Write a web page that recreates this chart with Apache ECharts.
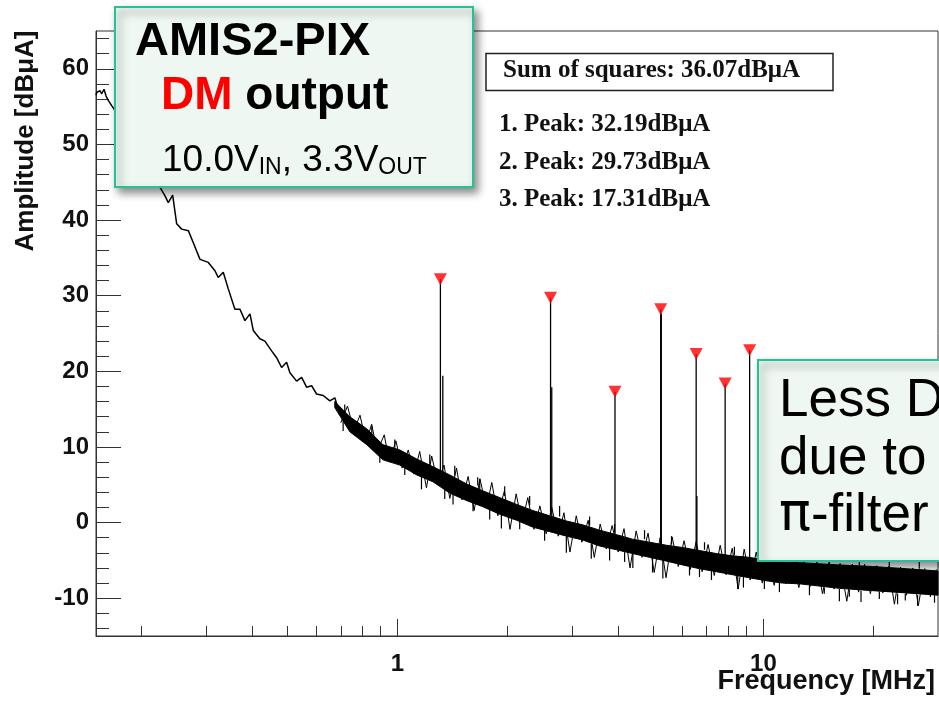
<!DOCTYPE html>
<html>
<head>
<meta charset="utf-8">
<script src="https://cdn.jsdelivr.net/npm/echarts@6/dist/echarts.min.js"></script>
<style>
html,body{margin:0;padding:0;background:#fff;}
#chart{width:939px;height:707px;}
</style>
</head>
<body>
<div id="chart"></div>
<script>
// ---- axis ticks ----
var xMajorTicks = [1, 10];
var xMinorTicks = [0.2,0.3,0.4,0.5,0.6,0.7,0.8,0.9,2,3,4,5,6,7,8,9,20];
var yMajorTicks = [-10,0,10,20,30,40,50,60];
var yMinorTicks = [-14,-12,-8,-6,-4,-2,2,4,6,8,12,14,16,18,22,24,26,28,32,34,36,38,42,44,46,48,52,54,56,58,62,64];

// ---- low-frequency trace (MHz, dBuA) ----
var traceFreq = [0.150,0.1508,0.1539,0.1555,0.1578,0.1598,0.1622,0.1657,0.1674,
  0.2316,0.2364,0.2430,0.2492,0.2572,0.2682,0.2767,0.2886,0.3041,0.3171,0.3237,0.3341,
  0.3448,0.3595,0.3711,0.3829,0.3952,0.4035,0.4207,0.4341,0.4529,0.4674,0.4823,0.4977,
  0.5082,0.5301,0.5470,0.5644,0.5824,0.6010,0.6264,0.6534,0.6742,0.6958,0.7258,0.7565,
  0.7891,0.8229,0.8579,0.8947,0.9332,0.9727,1.0146,1.0582,1.1030,1.1506,1.2000,1.2509,1.2907];
var traceAmp = [56.5,56.9,57.1,56.7,57.3,56.4,55.8,55.1,54.8,
  43.2,42.3,43.3,39.5,38.8,38.6,37.0,34.8,34.4,33.3,32.4,33.1,
  30.9,28.2,28.2,26.7,27.6,25.4,24.3,24.0,22.7,21.8,20.5,21.2,
  19.8,18.7,19.2,17.9,18.1,17.0,16.8,16.1,16.5,14.3,13.9,12.8,
  12.4,12.1,11.2,10.4,9.9,9.3,9.0,8.2,7.7,7.3,6.8,6.4,6.0];

// ---- dense noise core (upper / lower edge) ----
var bandFreq = [0.674,0.741,0.824,0.912,1.015,1.129,1.249,1.389,1.546,1.710,1.902,2.117,2.341,2.605,
  2.899,3.206,3.567,3.969,4.390,4.885,5.436,6.011,6.688,7.443,8.232,9.158,10.19,11.27,12.54,
  16.13,19.85,24.57,30];
var bandHigh = [16.0,14.0,12.4,10.3,9.6,8.4,7.4,6.3,5.1,4.2,3.3,2.4,1.6,0.9,
  0.2,-0.3,-1.0,-1.6,-2.2,-2.6,-3.0,-3.3,-3.7,-4.1,-4.4,-4.6,-5.0,-5.2,-5.3,
  -5.6,-5.8,-6.1,-6.4];
var bandLow = [15.2,12.0,10.3,8.3,7.6,6.3,5.4,3.9,2.9,2.1,1.1,0.3,-0.6,-1.2,
  -1.8,-2.3,-3.1,-3.6,-4.1,-4.6,-5.1,-5.6,-6.1,-6.5,-6.9,-7.3,-7.7,-8.0,-8.1,
  -8.7,-9.0,-9.3,-9.6];

// ---- jagged noise trace over the core ----
var noiseFreq = [0.70,0.73,0.76,0.79,0.82,0.85,0.88,0.92,0.95,0.99,
  1.03,1.07,1.11,1.15,1.20,1.24,1.29,1.34,1.39,1.45,
  1.50,1.56,1.62,1.68,1.75,1.81,1.88,1.96,2.03,2.11,
  2.19,2.27,2.36,2.45,2.55,2.64,2.75,2.85,2.96,3.08,
  3.19,3.32,3.45,3.58,3.72,3.86,4.01,4.16,4.32,4.49,
  4.66,4.84,5.03,5.22,5.42,5.63,5.85,6.07,6.31,6.55,
  6.80,7.06,7.34,7.62,7.91,8.22,8.53,8.86,9.20,9.56,
  9.93,10.3,10.7,11.1,11.5,12.0,12.5,12.9,13.4,14.0,
  14.5,15.1,15.6,16.2,16.9,17.5,18.2,18.9,19.6,20.4,
  21.2,22.0,22.8,23.7,24.6,25.6,26.5,27.6,28.6,29.7];
var noiseAmp = [13.2,15.4,12.2,14.2,10.6,13.0,9.4,11.6,8.0,10.8,
  7.2,9.6,6.4,9.4,4.6,8.8,5.2,7.6,3.2,7.2,
  3.0,6.1,1.6,5.8,1.9,5.3,0.9,4.2,-0.9,3.8,
  0.0,3.3,-0.9,2.2,-1.5,2.0,-1.8,1.3,-3.9,0.9,
  -2.6,0.3,-4.6,-0.2,-3.5,-0.4,-3.9,-0.8,-6.0,-1.1,
  -4.6,-1.4,-6.6,-2.0,-7.3,-1.9,-5.8,-2.4,-6.2,-2.5,
  -6.5,-2.9,-7.0,-3.0,-6.9,-3.4,-8.8,-3.5,-7.6,-3.9,
  -8.0,-4.0,-8.3,-4.9,-8.1,-5.0,-8.6,-5.1,-8.5,-5.2,
  -9.4,-5.3,-8.8,-5.4,-10.4,-5.5,-9.2,-5.5,-9.4,-5.7,
  -9.3,-5.8,-10.8,-5.9,-9.6,-6.0,-11.0,-6.1,-9.8,-6.2];

// ---- extra noise needles (from, to) ----
var needleFreq = [0.7176,0.8507,0.9831,1.2253,1.4338,1.6566,1.9632,2.2973,2.7737,3.3497,3.9191,4.7330,
  5.6089,6.9024,8.3330,10.385,12.540,15.142,18.288,22.080,26.665,
  0.7104,0.8947,1.047,1.1629,1.3462,1.4184,1.6085,1.6776,1.7865,1.9227,2.1576,2.524,2.8937,
  3.3853,3.799,4.175,4.3975,4.977,5.311,6.281,6.688,7.211,8.508,8.818,10.06,11.06,13.36,14.67,
  16.13,17.17,18.48,20.74,23.26,24.42,26.38,29.35];
var needleFrom = [14.4,11.6,9.9,7.6,6.2,4.9,3.5,2.3,0.8,-0.4,-1.3,-2.2,
  -2.9,-3.6,-4.3,-4.9,-5.2,-5.5,-5.7,-5.9,-6.1,
  13.5,9.5,7.8,6.5,5.0,4.0,3.0,4.0,2.0,1.5,0.6,-0.8,-1.8,
  -2.8,-3.4,-3.9,-4.0,-4.5,-5.0,-5.8,-6.1,-6.4,-7.0,-7.2,-7.7,-7.9,-8.4,-8.6,
  -8.8,-8.9,-9.0,-9.1,-9.4,-9.4,-9.6,-9.6];
var needleTo = [15.6,12.8,11.0,9.0,7.5,6.0,4.8,3.5,2.2,0.8,-0.2,-1.0,
  -1.8,-2.6,-3.2,-3.8,-4.0,-4.4,-4.6,-4.8,-5.0,
  12.1,7.9,6.3,4.4,3.1,2.4,1.5,5.7,0.4,-0.8,-0.9,-2.4,-4.0,
  -4.8,-5.0,-5.2,-6.0,-6.6,-7.4,-7.0,-7.2,-7.6,-8.8,-8.6,-8.8,-9.2,-9.6,-9.4,
  -10.4,-9.8,-10.5,-10.1,-10.8,-10.3,-11.0,-10.6];

// ---- harmonic peaks ----
var peakFreq = [1.31,2.62,3.93,5.24,6.55,7.86,9.17];
var peakAmp  = [32.19,29.73,17.31,28.2,22.3,18.4,22.8];
var peakBase = [5.5,1.0,-2.5,-3.5,-4.0,-4.5,-5.0];
var sideFreq = [1.33,2.64,5.26,6.58];
var sideAmp  = [19.4,17.9,27.6,3.5];
var sideBase = [5.0,0.8,-3.6,-4.2];

var sumOfSquares = 36.07;
var topPeaks = [32.19, 29.73, 17.31];

var chart = echarts.init(document.getElementById('chart'), null, {renderer:'canvas'});

function pairs(a, b){ return a.map(function(v,i){ return [v, b[i]]; }); }
function triples(a, b, c){ return a.map(function(v,i){ return [v, b[i], c[i]]; }); }

function segRender(width){
  return function(params, api){
    var p1 = api.coord([api.value(0), api.value(1)]);
    var p2 = api.coord([api.value(0), api.value(2)]);
    return {type:'line', shape:{x1:p1[0], y1:p1[1], x2:p2[0], y2:p2[1]},
      style:{stroke:'#000', lineWidth:width}};
  };
}

var axisColor = '#333';
var labelFont = {fontSize:24, fontWeight:'bold', color:'#111', fontFamily:'Liberation Sans'};

var option = {
  animation:false,
  backgroundColor:'#fff',
  grid:{left:96, top:31, right:1, bottom:71, show:true, borderColor:axisColor, borderWidth:1, backgroundColor:'transparent'},
  xAxis:[
    {type:'log', logBase:10, min:0.15, max:30,
     axisLine:{onZero:false, lineStyle:{color:axisColor, width:1}},
     axisTick:{inside:true, length:17, customValues:xMajorTicks, lineStyle:{color:axisColor, width:1}},
     axisLabel:Object.assign({customValues:xMajorTicks, margin:16, formatter:function(v){return String(v);}}, labelFont),
     splitLine:{show:false}, minorTick:{show:false}},
    {type:'log', logBase:10, min:0.15, max:30, position:'bottom',
     axisLine:{show:false, onZero:false},
     axisTick:{inside:true, length:10, customValues:xMinorTicks, lineStyle:{color:axisColor, width:1}},
     axisLabel:{show:false}, splitLine:{show:false}}
  ],
  yAxis:[
    {type:'value', min:-15, max:65, position:'left',
     axisLine:{show:true, onZero:false, lineStyle:{color:axisColor, width:1}},
     axisTick:{inside:true, length:25, customValues:yMajorTicks, lineStyle:{color:axisColor, width:1}},
     axisLabel:Object.assign({customValues:yMajorTicks, margin:7}, labelFont),
     splitLine:{show:false}},
    {type:'value', min:-15, max:65, position:'left',
     axisLine:{show:false, onZero:false},
     axisTick:{inside:true, length:13, customValues:yMinorTicks, lineStyle:{color:axisColor, width:1}},
     axisLabel:{show:false}, splitLine:{show:false}}
  ],
  series:[
    {type:'custom', name:'band', xAxisIndex:0, yAxisIndex:0, z:2,
     data:triples(bandFreq, bandHigh, bandLow),
     renderItem:function(params, api){
       if (params.dataIndex !== 0) return null;
       var pts = [];
       for (var i=0;i<bandFreq.length;i++) pts.push(api.coord([bandFreq[i], bandHigh[i]]));
       for (var j=bandFreq.length-1;j>=0;j--) pts.push(api.coord([bandFreq[j], bandLow[j]]));
       return {type:'polygon', shape:{points:pts}, style:{fill:'#000', stroke:'#000', lineWidth:1}};
     }},
    {type:'line', name:'trace', xAxisIndex:0, yAxisIndex:0, data:pairs(traceFreq, traceAmp),
     showSymbol:false, lineStyle:{color:'#000', width:1.5}, z:3},
    {type:'line', name:'noise', xAxisIndex:0, yAxisIndex:0, data:pairs(noiseFreq, noiseAmp),
     showSymbol:false, lineStyle:{color:'#000', width:1}, z:3},
    {type:'custom', name:'needles', xAxisIndex:0, yAxisIndex:0, data:triples(needleFreq, needleFrom, needleTo),
     renderItem:segRender(1.2), z:3},
    {type:'custom', name:'peaks', xAxisIndex:0, yAxisIndex:0, data:triples(peakFreq, peakBase, peakAmp),
     renderItem:segRender(1.3), z:3},
    {type:'custom', name:'side', xAxisIndex:0, yAxisIndex:0, data:triples(sideFreq, sideBase, sideAmp),
     renderItem:segRender(1.3), z:3},
    {type:'scatter', name:'markers', xAxisIndex:0, yAxisIndex:0, data:pairs(peakFreq, peakAmp),
     symbol:'triangle', symbolRotate:180, symbolSize:[13,12], itemStyle:{color:'#FF0000'}, z:4}
  ],
  graphic:[
    {type:'text', z:50, x:26, y:141, rotation:Math.PI/2,
     style:{text:'Amplitude [dBμA]', font:'bold 26px "Liberation Sans"', fill:'#111', align:'center', verticalAlign:'middle'}},
    {type:'text', z:50, x:935, y:682,
     style:{text:'Frequency [MHz]', font:'bold 27px "Liberation Sans"', fill:'#111', align:'right', verticalAlign:'middle'}},
    {type:'rect', z:50, shape:{x:486, y:53.5, width:347, height:37},
     style:{fill:'#fff', stroke:'#222', lineWidth:1.5}},
    {type:'text', z:51, x:503, y:71,
     style:{text:'Sum of squares: ' + sumOfSquares.toFixed(2) + 'dBμA', font:'bold 25px "Liberation Serif"', fill:'#111', align:'left', verticalAlign:'middle'}},
    {type:'text', z:51, x:499, y:125,
     style:{text:'1. Peak: ' + topPeaks[0].toFixed(2) + 'dBμA', font:'bold 25px "Liberation Serif"', fill:'#111', align:'left', verticalAlign:'middle'}},
    {type:'text', z:51, x:499, y:163,
     style:{text:'2. Peak: ' + topPeaks[1].toFixed(2) + 'dBμA', font:'bold 25px "Liberation Serif"', fill:'#111', align:'left', verticalAlign:'middle'}},
    {type:'text', z:51, x:499, y:200,
     style:{text:'3. Peak: ' + topPeaks[2].toFixed(2) + 'dBμA', font:'bold 25px "Liberation Serif"', fill:'#111', align:'left', verticalAlign:'middle'}},
    {type:'rect', z:60, shape:{x:115, y:7, width:358, height:180},
     style:{fill:'#EEF7F2', stroke:'#22C497', lineWidth:2, shadowBlur:8, shadowOffsetX:4, shadowOffsetY:5, shadowColor:'rgba(0,0,0,0.45)'}},
    {type:'text', z:61, x:135, y:42,
     style:{text:'AMIS2-PIX', font:'bold 47px "Liberation Sans"', fill:'#000', align:'left', verticalAlign:'middle'}},
    {type:'text', z:61, x:161, y:96,
     style:{text:'{r|DM}{b| output}', align:'left', verticalAlign:'middle',
       rich:{r:{fill:'#FF0000', font:'bold 46px "Liberation Sans"'}, b:{fill:'#000', font:'bold 46px "Liberation Sans"'}}}},
    {type:'text', z:61, x:162, y:157,
     style:{text:'{m|10.0V}{s|IN}{m|, 3.3V}{s|OUT}', align:'left', verticalAlign:'middle',
       rich:{m:{fill:'#000', font:'37px "Liberation Sans"', lineHeight:44, verticalAlign:'bottom'},
             s:{fill:'#000', font:'23px "Liberation Sans"', lineHeight:18, verticalAlign:'bottom'}}}},
    {type:'rect', z:60, shape:{x:758, y:360, width:210, height:201},
     style:{fill:'#EEF7F2', stroke:'#22C497', lineWidth:2, shadowBlur:8, shadowOffsetX:4, shadowOffsetY:5, shadowColor:'rgba(0,0,0,0.45)'}},
    {type:'text', z:61, x:779, y:401,
     style:{text:'Less DM', font:'53px "Liberation Sans"', fill:'#000', align:'left', verticalAlign:'middle'}},
    {type:'text', z:61, x:779, y:459,
     style:{text:'due to', font:'53px "Liberation Sans"', fill:'#000', align:'left', verticalAlign:'middle'}},
    {type:'text', z:61, x:779, y:516,
     style:{text:'{p|π}{t|-filter}', align:'left', verticalAlign:'middle',
       rich:{p:{fill:'#000', font:'53px "DejaVu Sans"'}, t:{fill:'#000', font:'53px "Liberation Sans"'}}}}
  ]
};
chart.setOption(option);
</script>
</body>
</html>
